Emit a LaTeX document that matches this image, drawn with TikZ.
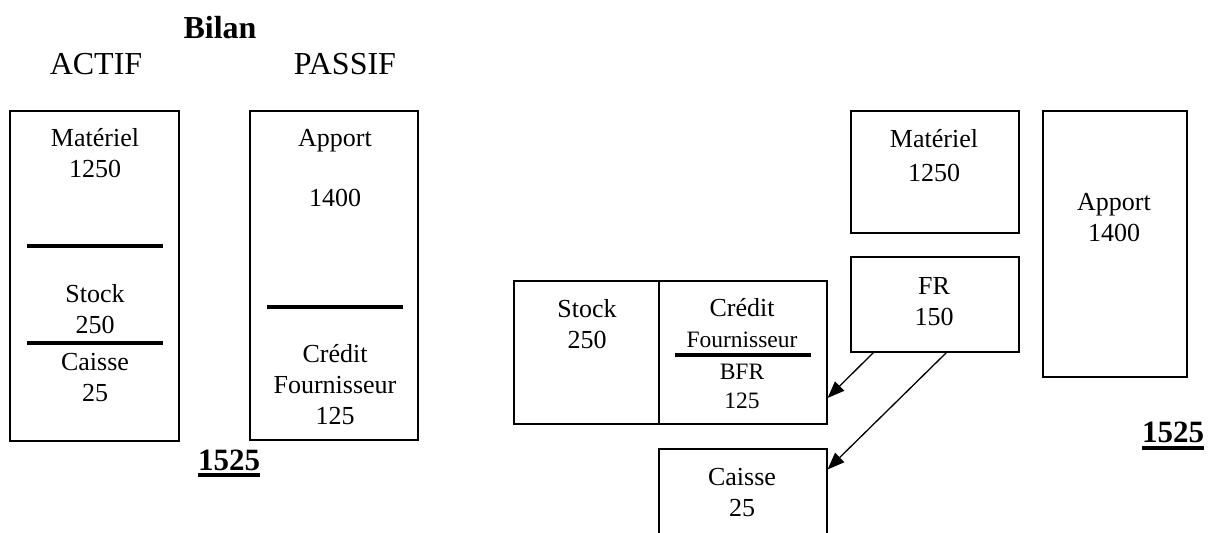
\documentclass[tikz,border=0pt]{standalone}
\usepackage{fontspec}
\setmainfont{Liberation Serif}
\usetikzlibrary{arrows.meta}

\begin{document}
\begin{tikzpicture}[x=1pt,y=-1pt]
        \tikzstyle{bloc}=[draw=black,line width=1.2pt,inner sep=0pt]
        \tikzstyle{texte}=[align=center,inner sep=0pt,font=\fontsize{26}{31}\selectfont]
        \tikzstyle{petit}=[align=center,inner sep=0pt,font=\fontsize{23.5}{29}\selectfont]
        \tikzstyle{titre}=[anchor=base,inner sep=0pt,font=\fontsize{32}{36}\selectfont]
        \tikzstyle{total}=[anchor=base,inner sep=0pt,font=\bfseries\fontsize{31}{36}\selectfont]
        \tikzstyle{trait}=[draw,line width=3.5pt]
        \tikzstyle{edge}=[draw,line width=1.3pt,-{Triangle[length=17pt,width=13pt]}]

        \useasboundingbox (0,0) rectangle (1208,533);
        \clip (0,0) rectangle (1208,533);

       % bilan
       \begin{scope}
         \node [titre,font=\bfseries\fontsize{32}{36}\selectfont] (bilan) at (220,38) {Bilan};
         \node [titre] (actif) at (96,74) {ACTIF};
         \node [titre] (passif) at (345,74) {PASSIF};

         \node [bloc,minimum width=169pt,minimum height=330pt] (actifbox) at (94.5,276) {};
         \node [bloc,minimum width=168pt,minimum height=329pt] (passifbox) at (334,275.5) {};

         \node [texte] (mat1) at (95,153) {Matériel\\1250};
         \node [texte] (stock1) at (95,309) {Stock\\250};
         \node [texte] (caisse1) at (95,377.5) {Caisse\\25};
         \node [texte] (apport1) at (335,168) {Apport\\[29pt]1400};
         \node [texte] (credit1) at (335,385) {Crédit\\Fournisseur\\125};

         \path[trait] (27,246) -- (163,246);
         \path[trait] (27,343) -- (163,343);
         \path[trait] (267,307) -- (403,307);

         \node [total] (tot1) at (229,470) {1525};
         \path[draw,line width=3.5pt] ([yshift=-5pt]tot1.base west) -- ([yshift=-5pt]tot1.base east);
       \end{scope}

       % FR / BFR
       \begin{scope}
         \node [bloc,minimum width=145pt,minimum height=143pt] (stockbox) at (586.5,352.5) {};
         \node [bloc,minimum width=168pt,minimum height=143pt] (creditbox) at (743,352.5) {};
         \node [bloc,minimum width=168pt,minimum height=111pt] (caissebox) at (743,504.5) {};
         \node [bloc,minimum width=168pt,minimum height=122pt] (matbox) at (935,172) {};
         \node [bloc,minimum width=168pt,minimum height=95pt] (frbox) at (935,304.5) {};
         \node [bloc,minimum width=144pt,minimum height=266pt] (apportbox) at (1115,244) {};

         \node [texte] (stock2) at (587,324) {Stock\\250};
         \node [texte] (credit2) at (742,323) {Crédit\\{\fontsize{23.5}{29}\selectfont Fournisseur}};
         \node [petit] (bfr) at (742,386) {BFR\\125};
         \node [texte] (caisse2) at (742,493) {Caisse\\25};
         \node [texte,font=\fontsize{26}{34}\selectfont] (mat2) at (934,156) {Matériel\\1250};
         \node [texte] (apport2) at (1114,218) {Apport\\1400};
         \node [texte] (fr) at (934,302) {FR\\150};

         \path[trait] (675,355) -- (811,355);

         \path[edge] ([xshift=23pt]frbox.south west) -- ([yshift=-45.5pt]creditbox.east);
         \path[edge] ([xshift=96pt]frbox.south west) -- ([yshift=-21pt]caissebox.north east);

         \node [total] (tot2) at (1173,442) {1525};
         \path[draw,line width=3.5pt] ([yshift=-6pt]tot2.base west) -- ([yshift=-6pt]tot2.base east);
       \end{scope}
\end{tikzpicture}
\end{document}
